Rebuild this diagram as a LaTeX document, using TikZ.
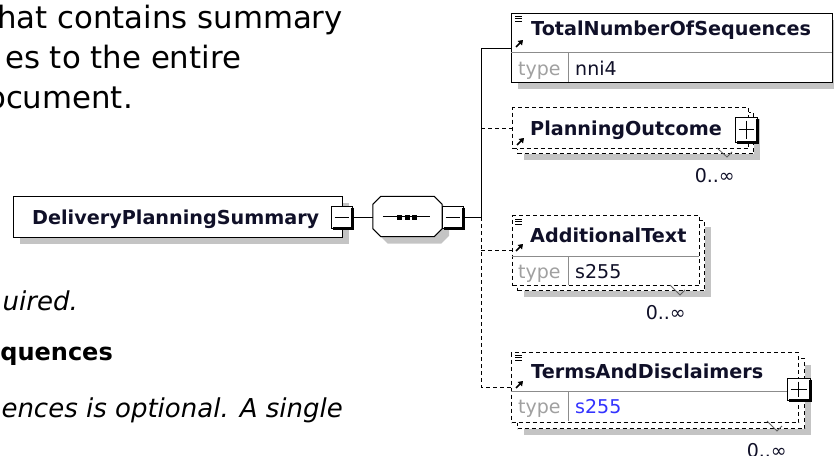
\documentclass[tikz,border=0pt]{standalone}
\usepackage{fontspec}
\setmainfont{DejaVu Sans}
\usetikzlibrary{arrows.meta,calc}
\definecolor{shadowgray}{HTML}{C4C4C4}
\definecolor{nametext}{HTML}{101028}
\definecolor{typegray}{HTML}{A0A0A0}
\definecolor{divgray}{HTML}{8C8C8C}
\definecolor{typeblue}{HTML}{3333FF}
\definecolor{markgray}{HTML}{606060}
\tikzset{
  shadowbox/.style={fill=shadowgray, draw=none, inner sep=0pt, anchor=north west},
  elbox/.style={draw=black, line width=1pt, fill=white, inner sep=0pt, anchor=north west},
  dashbox/.style={draw=black, line width=1pt, dash pattern=on 4pt off 3pt, fill=white, inner sep=0pt, anchor=north west},
  xpframe/.style={draw=black, line width=1pt, fill=white, inner sep=0pt},
  thick3d/.style={line width=2.6pt, draw=black},
  nm/.style={font=\fontsize{19.2}{22}\selectfont\bfseries, text=nametext, inner sep=0pt, anchor=base west},
  tp/.style={font=\fontsize{19}{22}\selectfont, text=typegray, inner sep=0pt, anchor=base west},
  tv/.style={font=\fontsize{19}{22}\selectfont, text=nametext, inner sep=0pt, anchor=base west},
  occ/.style={font=\fontsize{19}{22}\selectfont, text=nametext, inner sep=0pt, anchor=base east},
  desc/.style={font=\fontsize{30.8}{36}\selectfont, text=black, inner sep=0pt, anchor=base east},
  descit/.style={font=\fontsize{26}{30}\selectfont\itshape, text=black, inner sep=0pt, anchor=base east},
  descbf/.style={font=\fontsize{24}{30}\selectfont\bfseries, text=black, inner sep=0pt, anchor=base east},
  conn/.style={line width=1pt, draw=black},
  dconn/.style={conn, dash pattern=on 4pt off 3pt},
  divider/.style={draw=divgray, line width=1pt},
  lines3/.style={line width=0.9pt, draw=black},
  refarrow/.style={line width=1.7pt, draw=black, -{Triangle[length=4.5pt,width=6pt]}},
  notch/.style={line width=0.8pt, draw=markgray},
  anchorbox/.style={draw=none, inner sep=0pt, minimum width=69pt, minimum height=40pt},
}
\newcommand\xpbox[5]{% name, x, y (center), w, h ; minus sign
  \node[xpframe, minimum width=#4pt, minimum height=#5pt] (#1) at (#2,#3) {};
  \draw[thick3d] ($(#1.north east)+(0,2)$) -- (#1.south east) -- ($(#1.south west)+(2,0)$);
  \draw[line width=1pt] ($(#1.west)+(4,0)$) -- ($(#1.east)+(-4,0)$);
}
\newcommand\plusbar[1]{%
  \draw[line width=1pt] ($(#1.north)+(0,4)$) -- ($(#1.south)+(0,-4)$);
}
\newcommand\docicon[2]{% x y of top line
  \draw[lines3] (#1,#2) -- ++(7,0);
  \draw[lines3] (#1,#2+2.5) -- ++(7,0);
  \draw[lines3] (#1,#2+5) -- ++(7,0);
}
\newcommand\octpath[1]{%
  ($(#1.north west)+(8,0)$) -- ($(#1.north east)+(-8,0)$) -- ($(#1.north east)+(0,8)$) --
  ($(#1.south east)+(0,-8)$) -- ($(#1.south east)+(-8,0)$) -- ($(#1.south west)+(8,0)$) --
  ($(#1.south west)+(0,-8)$) -- ($(#1.north west)+(0,8)$) -- cycle
}
\begin{document}
\begin{tikzpicture}[x=1pt, y=-1pt]
\useasboundingbox (0,0) rectangle (834,455);

% ---------- description text (cut off at left) ----------
\node[desc] (d1) at (343,28) {hat contains summary};
\node[desc, anchor=base west] (d2) at (5,68) {es to the entire};
\node[desc] (d3) at (133,108) {ocument.};
\node[descit] (d4) at (78,310) {uired.};
\node[descbf] (d5) at (113,360) {quences};
\node[descit] (d6) at (343,417) {ences is optional. A single};

% ---------- shadows ----------
\node[shadowbox, minimum width=329pt, minimum height=41pt] (dps-s) at (20,203) {};
\node[anchorbox] (seq-s) at (414.5,223.5) {};
\fill[shadowgray] \octpath{seq-s};
\node[shadowbox, minimum width=321pt, minimum height=69pt] (tnos-s) at (518,20) {};
\node[shadowbox, minimum width=236pt, minimum height=41pt] (po-s) at (524,119) {};
\node[shadowbox, minimum width=187pt, minimum height=70pt] (at-s) at (524,227) {};
\node[shadowbox, minimum width=287pt, minimum height=70pt] (td-s) at (524,365) {};

% ---------- root element ----------
\node[elbox, minimum width=329pt, minimum height=41pt] (dps) at (13,196) {};
\node[nm] (dps-t) at (32,224) {DeliveryPlanningSummary};
\xpbox{dpsx}{341.5}{217}{21}{22}

% ---------- sequence compositor ----------
\node[anchorbox] (seq) at (407.5,216.5) {};
\draw[conn, fill=white] \octpath{seq};
\draw[conn] ($(seq.west)+(10,0)$) -- ($(seq.east)+(-12,0)$);
\fill (397,214.5) rectangle ++(5,5);
\fill (404.5,214.5) rectangle ++(5,5);
\fill (412,214.5) rectangle ++(5,5);
\xpbox{seqx}{452.5}{217}{21}{22}

% ---------- connectors ----------
\coordinate (jn) at (481,217);
\coordinate (tnos-in) at (511,48);
\coordinate (po-in) at (512,128);
\coordinate (at-in) at (512,250);
\coordinate (td-in) at (511,387);
\draw[conn] (dpsx.east) -- (dpsx.east -| seq.west);
\draw[conn] (seqx.east) -- (jn);
\draw[conn] (jn) |- (tnos-in);
\draw[dconn] (jn |- po-in) -- (po-in);
\draw[dconn] (jn) -- (jn |- td-in) -- (td-in);
\draw[dconn] (jn |- at-in) -- (at-in);

% ---------- TotalNumberOfSequences ----------
\node[elbox, minimum width=321pt, minimum height=69pt] (tnos) at (511,13) {};
\draw[divider] (511,52) -- (832,52);
\draw[divider] (568,52) -- (568,82);
\docicon{515}{16}
\draw[refarrow] (516,47) -- (523,40);
\node[nm] (tnos-t) at (531,35) {TotalNumberOfSequences};
\node[tp] (tnos-tp) at (518,75) {type};
\node[tv] (tnos-tv) at (575,75) {nni4};

% ---------- PlanningOutcome (0..unbounded) ----------
\node[dashbox, minimum width=236pt, minimum height=41pt] (po-b) at (517,112) {};
\node[dashbox, minimum width=236pt, minimum height=41pt] (po) at (512,107) {};
\draw[notch] (717,148) -- (727,157) -- (732,152);
\draw[refarrow] (517,145) -- (524,138);
\node[nm] (po-t) at (530,135) {PlanningOutcome};
\xpbox{pox}{746}{129.5}{22}{25}
\plusbar{pox}
\node[occ] (po-o) at (735,182) {0..∞};

% ---------- AdditionalText (0..unbounded) ----------
\node[dashbox, minimum width=187pt, minimum height=70pt] (at-b) at (517,220) {};
\node[dashbox, minimum width=187pt, minimum height=70pt] (at) at (512,215) {};
\draw[divider] (512,256) -- (699,256);
\draw[divider] (568,256) -- (568,285);
\draw[notch] (670,285) -- (680,295) -- (685,290);
\docicon{515}{219}
\draw[refarrow] (516,251) -- (523,244);
\node[nm] (at-t) at (530,242) {AdditionalText};
\node[tp] (at-tp) at (518,278) {type};
\node[tv] (at-tv) at (575,278) {s255};
\node[occ] (at-o) at (686,319) {0..∞};

% ---------- TermsAndDisclaimers (0..unbounded) ----------
\node[dashbox, minimum width=287pt, minimum height=70pt] (td-b) at (517,358) {};
\node[dashbox, minimum width=287pt, minimum height=70pt] (td) at (511,352) {};
\draw[divider] (511,391) -- (787,391);
\draw[divider] (568,391) -- (568,421);
\draw[notch] (767,421) -- (777,431) -- (782,426);
\docicon{515}{355}
\draw[refarrow] (516,388) -- (523,381);
\node[nm] (td-t) at (531,378) {TermsAndDisclaimers};
\node[tp] (td-tp) at (518,413) {type};
\node[tv, text=typeblue] (td-tv) at (575,413) {s255};
\xpbox{tdx}{798.5}{389}{23}{22}
\plusbar{tdx}
\node[occ] (td-o) at (787,457) {0..∞};
\end{tikzpicture}
\end{document}
